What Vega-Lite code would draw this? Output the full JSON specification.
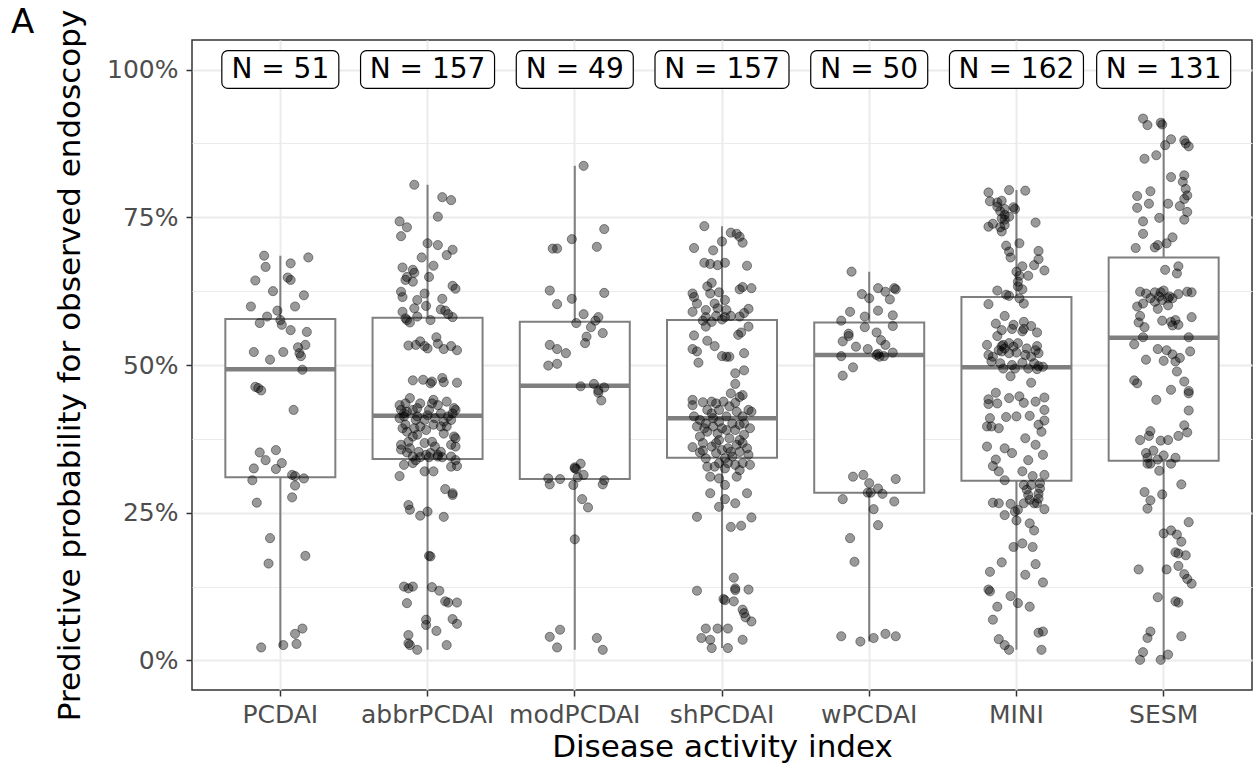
{
  "$schema": "https://vega.github.io/schema/vega-lite/v6.json",
  "width": 1060,
  "height": 650,
  "autosize": {"type": "none"},
  "padding": {"left": 192, "top": 40, "right": 1, "bottom": 77},
  "background": "white",
  "config": {"font": "DejaVu Sans", "view": {"stroke": "#333333", "strokeWidth": 1.5}},
  "title": {"text": "A", "anchor": "start", "frame": "group", "dx": -181, "dy": 58, "fontSize": 34, "fontWeight": "normal", "color": "black", "offset": 0, "baseline": "alphabetic"},
  "datasets": {
    "box": [
      {"c": "PCDAI", "lo": 2.2, "q1": 31.0, "med": 49.3, "q3": 57.8, "hi": 68.5},
      {"c": "abbrPCDAI", "lo": 1.8, "q1": 34.1, "med": 41.4, "q3": 58.0, "hi": 80.5},
      {"c": "modPCDAI", "lo": 1.8, "q1": 30.7, "med": 46.5, "q3": 57.3, "hi": 83.7},
      {"c": "shPCDAI", "lo": 2.1, "q1": 34.3, "med": 41.0, "q3": 57.6, "hi": 73.5},
      {"c": "wPCDAI", "lo": 3.2, "q1": 28.4, "med": 51.7, "q3": 57.2, "hi": 65.8},
      {"c": "MINI", "lo": 1.8, "q1": 30.4, "med": 49.6, "q3": 61.5, "hi": 79.6},
      {"c": "SESM", "lo": 0.1, "q1": 33.8, "med": 54.6, "q3": 68.2, "hi": 91.7}
    ],
    "lab": [
      {"c": "PCDAI", "n": 51, "label": "N = 51"},
      {"c": "abbrPCDAI", "n": 157, "label": "N = 157"},
      {"c": "modPCDAI", "n": 49, "label": "N = 49"},
      {"c": "shPCDAI", "n": 157, "label": "N = 157"},
      {"c": "wPCDAI", "n": 50, "label": "N = 50"},
      {"c": "MINI", "n": 162, "label": "N = 162"},
      {"c": "SESM", "n": 131, "label": "N = 131"}
    ],
    "pts": [
{"c":"PCDAI","v":68.5,"j":-0.11},{"c":"PCDAI","v":68.2,"j":0.19},{"c":"PCDAI","v":66.6,"j":-0.10},{"c":"PCDAI","v":67.2,"j":0.07},{"c":"PCDAI","v":64.3,"j":-0.17},{"c":"PCDAI","v":64.8,"j":0.05},{"c":"PCDAI","v":64.4,"j":0.07},{"c":"PCDAI","v":62.5,"j":-0.05},{"c":"PCDAI","v":61.8,"j":0.16},{"c":"PCDAI","v":59.9,"j":-0.20},{"c":"PCDAI","v":59.9,"j":0.10},{"c":"PCDAI","v":59.2,"j":-0.02},{"c":"PCDAI","v":58.2,"j":-0.09},{"c":"PCDAI","v":57.1,"j":-0.14},{"c":"PCDAI","v":57.6,"j":0.00},{"c":"PCDAI","v":56.8,"j":0.01},{"c":"PCDAI","v":55.9,"j":0.07},{"c":"PCDAI","v":55.6,"j":0.18},{"c":"PCDAI","v":53.4,"j":0.17},{"c":"PCDAI","v":53.0,"j":0.12},{"c":"PCDAI","v":52.2,"j":-0.18},{"c":"PCDAI","v":52.2,"j":0.02},{"c":"PCDAI","v":52.0,"j":0.13},{"c":"PCDAI","v":51.5,"j":0.14},{"c":"PCDAI","v":50.9,"j":-0.07},{"c":"PCDAI","v":49.2,"j":0.15},{"c":"PCDAI","v":46.3,"j":-0.17},{"c":"PCDAI","v":46.1,"j":-0.15},{"c":"PCDAI","v":45.7,"j":-0.13},{"c":"PCDAI","v":42.4,"j":0.09},{"c":"PCDAI","v":35.2,"j":-0.14},{"c":"PCDAI","v":35.6,"j":-0.03},{"c":"PCDAI","v":33.9,"j":-0.10},{"c":"PCDAI","v":33.4,"j":0.01},{"c":"PCDAI","v":32.5,"j":-0.18},{"c":"PCDAI","v":32.4,"j":-0.03},{"c":"PCDAI","v":31.4,"j":0.08},{"c":"PCDAI","v":31.2,"j":0.10},{"c":"PCDAI","v":30.8,"j":0.16},{"c":"PCDAI","v":30.5,"j":-0.19},{"c":"PCDAI","v":29.6,"j":0.10},{"c":"PCDAI","v":27.6,"j":0.08},{"c":"PCDAI","v":26.7,"j":-0.16},{"c":"PCDAI","v":20.7,"j":-0.07},{"c":"PCDAI","v":17.7,"j":0.17},{"c":"PCDAI","v":16.4,"j":-0.08},{"c":"PCDAI","v":5.4,"j":0.15},{"c":"PCDAI","v":4.5,"j":0.10},{"c":"PCDAI","v":2.2,"j":-0.13},{"c":"PCDAI","v":2.6,"j":0.02},{"c":"PCDAI","v":2.8,"j":0.11},
{"c":"abbrPCDAI","v":80.5,"j":-0.09},{"c":"abbrPCDAI","v":78.4,"j":0.10},{"c":"abbrPCDAI","v":77.9,"j":0.16},{"c":"abbrPCDAI","v":75.1,"j":0.07},{"c":"abbrPCDAI","v":74.3,"j":-0.19},{"c":"abbrPCDAI","v":73.3,"j":-0.14},{"c":"abbrPCDAI","v":71.8,"j":-0.18},{"c":"abbrPCDAI","v":70.6,"j":0.00},{"c":"abbrPCDAI","v":70.3,"j":0.07},{"c":"abbrPCDAI","v":69.5,"j":0.17},{"c":"abbrPCDAI","v":68.6,"j":0.13},{"c":"abbrPCDAI","v":68.2,"j":-0.04},{"c":"abbrPCDAI","v":66.8,"j":0.04},{"c":"abbrPCDAI","v":66.5,"j":-0.17},{"c":"abbrPCDAI","v":66.1,"j":-0.10},{"c":"abbrPCDAI","v":65.6,"j":-0.09},{"c":"abbrPCDAI","v":64.9,"j":-0.14},{"c":"abbrPCDAI","v":64.4,"j":-0.15},{"c":"abbrPCDAI","v":64.1,"j":-0.10},{"c":"abbrPCDAI","v":64.9,"j":0.01},{"c":"abbrPCDAI","v":63.4,"j":0.17},{"c":"abbrPCDAI","v":62.9,"j":0.19},{"c":"abbrPCDAI","v":62.4,"j":-0.18},{"c":"abbrPCDAI","v":61.5,"j":-0.17},{"c":"abbrPCDAI","v":62.1,"j":-0.02},{"c":"abbrPCDAI","v":61.0,"j":-0.07},{"c":"abbrPCDAI","v":61.2,"j":0.10},{"c":"abbrPCDAI","v":60.0,"j":-0.01},{"c":"abbrPCDAI","v":59.6,"j":-0.09},{"c":"abbrPCDAI","v":59.0,"j":-0.17},{"c":"abbrPCDAI","v":59.4,"j":0.09},{"c":"abbrPCDAI","v":59.2,"j":0.12},{"c":"abbrPCDAI","v":58.6,"j":0.14},{"c":"abbrPCDAI","v":58.1,"j":0.17},{"c":"abbrPCDAI","v":57.9,"j":-0.15},{"c":"abbrPCDAI","v":57.2,"j":-0.12},{"c":"abbrPCDAI","v":58.2,"j":-0.07},{"c":"abbrPCDAI","v":57.6,"j":0.02},{"c":"abbrPCDAI","v":57.6,"j":-0.14},{"c":"abbrPCDAI","v":53.3,"j":-0.13},{"c":"abbrPCDAI","v":54.0,"j":-0.05},{"c":"abbrPCDAI","v":53.4,"j":-0.08},{"c":"abbrPCDAI","v":52.8,"j":0.00},{"c":"abbrPCDAI","v":54.7,"j":0.06},{"c":"abbrPCDAI","v":53.6,"j":0.07},{"c":"abbrPCDAI","v":52.7,"j":0.11},{"c":"abbrPCDAI","v":53.2,"j":0.16},{"c":"abbrPCDAI","v":52.5,"j":0.20},{"c":"abbrPCDAI","v":53.2,"j":-0.02},{"c":"abbrPCDAI","v":47.4,"j":-0.10},{"c":"abbrPCDAI","v":47.5,"j":-0.03},{"c":"abbrPCDAI","v":46.9,"j":0.02},{"c":"abbrPCDAI","v":47.2,"j":0.03},{"c":"abbrPCDAI","v":47.8,"j":0.10},{"c":"abbrPCDAI","v":47.1,"j":0.11},{"c":"abbrPCDAI","v":47.0,"j":0.20},{"c":"abbrPCDAI","v":44.4,"j":-0.12},{"c":"abbrPCDAI","v":43.2,"j":-0.19},{"c":"abbrPCDAI","v":42.4,"j":-0.18},{"c":"abbrPCDAI","v":41.8,"j":-0.16},{"c":"abbrPCDAI","v":42.1,"j":-0.14},{"c":"abbrPCDAI","v":42.4,"j":-0.10},{"c":"abbrPCDAI","v":42.7,"j":-0.07},{"c":"abbrPCDAI","v":44.1,"j":0.04},{"c":"abbrPCDAI","v":43.5,"j":0.03},{"c":"abbrPCDAI","v":43.2,"j":0.07},{"c":"abbrPCDAI","v":43.8,"j":0.13},{"c":"abbrPCDAI","v":42.7,"j":0.18},{"c":"abbrPCDAI","v":41.8,"j":0.17},{"c":"abbrPCDAI","v":41.3,"j":0.14},{"c":"abbrPCDAI","v":41.5,"j":0.00},{"c":"abbrPCDAI","v":40.7,"j":-0.02},{"c":"abbrPCDAI","v":39.9,"j":-0.15},{"c":"abbrPCDAI","v":39.3,"j":-0.17},{"c":"abbrPCDAI","v":38.7,"j":-0.14},{"c":"abbrPCDAI","v":39.3,"j":-0.09},{"c":"abbrPCDAI","v":39.6,"j":-0.05},{"c":"abbrPCDAI","v":39.0,"j":-0.01},{"c":"abbrPCDAI","v":38.2,"j":-0.07},{"c":"abbrPCDAI","v":39.9,"j":0.04},{"c":"abbrPCDAI","v":38.4,"j":0.11},{"c":"abbrPCDAI","v":37.9,"j":0.18},{"c":"abbrPCDAI","v":41.0,"j":-0.19},{"c":"abbrPCDAI","v":40.7,"j":-0.08},{"c":"abbrPCDAI","v":41.8,"j":0.09},{"c":"abbrPCDAI","v":40.4,"j":0.11},{"c":"abbrPCDAI","v":41.0,"j":0.05},{"c":"abbrPCDAI","v":42.4,"j":0.19},{"c":"abbrPCDAI","v":41.3,"j":-0.16},{"c":"abbrPCDAI","v":36.5,"j":-0.18},{"c":"abbrPCDAI","v":35.7,"j":-0.18},{"c":"abbrPCDAI","v":35.9,"j":-0.12},{"c":"abbrPCDAI","v":35.3,"j":-0.06},{"c":"abbrPCDAI","v":34.8,"j":-0.01},{"c":"abbrPCDAI","v":36.2,"j":0.05},{"c":"abbrPCDAI","v":36.5,"j":0.16},{"c":"abbrPCDAI","v":36.2,"j":0.19},{"c":"abbrPCDAI","v":34.5,"j":-0.10},{"c":"abbrPCDAI","v":33.9,"j":-0.08},{"c":"abbrPCDAI","v":34.4,"j":-0.05},{"c":"abbrPCDAI","v":34.4,"j":0.01},{"c":"abbrPCDAI","v":34.8,"j":0.07},{"c":"abbrPCDAI","v":34.4,"j":0.10},{"c":"abbrPCDAI","v":34.5,"j":0.16},{"c":"abbrPCDAI","v":33.9,"j":0.19},{"c":"abbrPCDAI","v":33.4,"j":-0.10},{"c":"abbrPCDAI","v":33.1,"j":-0.16},{"c":"abbrPCDAI","v":32.8,"j":0.16},{"c":"abbrPCDAI","v":32.9,"j":0.20},{"c":"abbrPCDAI","v":32.0,"j":-0.02},{"c":"abbrPCDAI","v":32.0,"j":0.04},{"c":"abbrPCDAI","v":31.2,"j":-0.19},{"c":"abbrPCDAI","v":34.5,"j":0.07},{"c":"abbrPCDAI","v":35.2,"j":-0.14},{"c":"abbrPCDAI","v":35.1,"j":0.02},{"c":"abbrPCDAI","v":29.0,"j":0.12},{"c":"abbrPCDAI","v":28.3,"j":0.17},{"c":"abbrPCDAI","v":28.0,"j":0.17},{"c":"abbrPCDAI","v":26.3,"j":-0.13},{"c":"abbrPCDAI","v":25.5,"j":-0.12},{"c":"abbrPCDAI","v":24.5,"j":-0.05},{"c":"abbrPCDAI","v":25.2,"j":0.00},{"c":"abbrPCDAI","v":24.3,"j":0.11},{"c":"abbrPCDAI","v":17.7,"j":0.01},{"c":"abbrPCDAI","v":17.6,"j":0.02},{"c":"abbrPCDAI","v":12.5,"j":-0.16},{"c":"abbrPCDAI","v":12.2,"j":-0.13},{"c":"abbrPCDAI","v":12.5,"j":-0.10},{"c":"abbrPCDAI","v":9.7,"j":-0.14},{"c":"abbrPCDAI","v":12.4,"j":0.03},{"c":"abbrPCDAI","v":11.8,"j":0.08},{"c":"abbrPCDAI","v":10.0,"j":0.12},{"c":"abbrPCDAI","v":9.8,"j":0.14},{"c":"abbrPCDAI","v":9.8,"j":0.20},{"c":"abbrPCDAI","v":6.9,"j":-0.01},{"c":"abbrPCDAI","v":6.0,"j":-0.01},{"c":"abbrPCDAI","v":5.0,"j":0.06},{"c":"abbrPCDAI","v":7.0,"j":0.17},{"c":"abbrPCDAI","v":6.2,"j":0.20},{"c":"abbrPCDAI","v":4.3,"j":-0.13},{"c":"abbrPCDAI","v":2.9,"j":-0.13},{"c":"abbrPCDAI","v":2.6,"j":-0.12},{"c":"abbrPCDAI","v":1.8,"j":-0.07},{"c":"abbrPCDAI","v":2.6,"j":0.13},{"c":"abbrPCDAI","v":43.5,"j":-0.15},{"c":"abbrPCDAI","v":41.3,"j":-0.07},{"c":"abbrPCDAI","v":39.6,"j":0.09},{"c":"abbrPCDAI","v":39.6,"j":0.13},{"c":"abbrPCDAI","v":43.5,"j":-0.05},{"c":"abbrPCDAI","v":42.4,"j":0.01},{"c":"abbrPCDAI","v":37.9,"j":-0.10},{"c":"abbrPCDAI","v":40.7,"j":0.16},{"c":"abbrPCDAI","v":36.8,"j":-0.02},{"c":"abbrPCDAI","v":35.3,"j":0.09},{"c":"abbrPCDAI","v":37.0,"j":-0.13},{"c":"abbrPCDAI","v":37.6,"j":0.19},{"c":"abbrPCDAI","v":37.0,"j":0.03},
{"c":"modPCDAI","v":83.7,"j":0.06},{"c":"modPCDAI","v":73.0,"j":0.20},{"c":"modPCDAI","v":71.3,"j":-0.02},{"c":"modPCDAI","v":69.7,"j":-0.15},{"c":"modPCDAI","v":69.7,"j":-0.12},{"c":"modPCDAI","v":70.0,"j":0.15},{"c":"modPCDAI","v":62.6,"j":-0.17},{"c":"modPCDAI","v":62.2,"j":0.20},{"c":"modPCDAI","v":61.2,"j":-0.02},{"c":"modPCDAI","v":60.3,"j":-0.12},{"c":"modPCDAI","v":58.6,"j":0.06},{"c":"modPCDAI","v":58.1,"j":0.16},{"c":"modPCDAI","v":57.5,"j":0.14},{"c":"modPCDAI","v":57.1,"j":0.01},{"c":"modPCDAI","v":56.4,"j":0.11},{"c":"modPCDAI","v":55.4,"j":0.19},{"c":"modPCDAI","v":54.8,"j":0.08},{"c":"modPCDAI","v":53.7,"j":0.07},{"c":"modPCDAI","v":53.4,"j":-0.17},{"c":"modPCDAI","v":52.7,"j":-0.12},{"c":"modPCDAI","v":52.0,"j":-0.06},{"c":"modPCDAI","v":49.9,"j":-0.18},{"c":"modPCDAI","v":50.2,"j":-0.12},{"c":"modPCDAI","v":46.4,"j":0.04},{"c":"modPCDAI","v":46.8,"j":0.13},{"c":"modPCDAI","v":45.7,"j":0.16},{"c":"modPCDAI","v":45.3,"j":0.16},{"c":"modPCDAI","v":46.2,"j":0.20},{"c":"modPCDAI","v":44.0,"j":0.18},{"c":"modPCDAI","v":33.3,"j":0.04},{"c":"modPCDAI","v":32.7,"j":0.00},{"c":"modPCDAI","v":32.4,"j":0.01},{"c":"modPCDAI","v":31.4,"j":0.06},{"c":"modPCDAI","v":30.8,"j":-0.18},{"c":"modPCDAI","v":30.7,"j":-0.10},{"c":"modPCDAI","v":29.8,"j":-0.17},{"c":"modPCDAI","v":29.7,"j":-0.01},{"c":"modPCDAI","v":30.5,"j":0.20},{"c":"modPCDAI","v":29.8,"j":0.19},{"c":"modPCDAI","v":31.0,"j":0.02},{"c":"modPCDAI","v":27.3,"j":0.05},{"c":"modPCDAI","v":25.9,"j":0.09},{"c":"modPCDAI","v":20.5,"j":0.00},{"c":"modPCDAI","v":5.2,"j":-0.10},{"c":"modPCDAI","v":4.0,"j":-0.17},{"c":"modPCDAI","v":2.2,"j":-0.12},{"c":"modPCDAI","v":3.8,"j":0.15},{"c":"modPCDAI","v":1.8,"j":0.19},{"c":"modPCDAI","v":32.5,"j":0.00},
{"c":"shPCDAI","v":73.5,"j":-0.12},{"c":"shPCDAI","v":72.4,"j":0.06},{"c":"shPCDAI","v":72.2,"j":0.10},{"c":"shPCDAI","v":71.7,"j":0.12},{"c":"shPCDAI","v":70.9,"j":0.00},{"c":"shPCDAI","v":70.7,"j":0.14},{"c":"shPCDAI","v":69.8,"j":-0.19},{"c":"shPCDAI","v":69.4,"j":-0.06},{"c":"shPCDAI","v":67.3,"j":-0.12},{"c":"shPCDAI","v":67.1,"j":-0.08},{"c":"shPCDAI","v":66.9,"j":-0.03},{"c":"shPCDAI","v":67.3,"j":0.02},{"c":"shPCDAI","v":66.8,"j":0.17},{"c":"shPCDAI","v":63.9,"j":-0.07},{"c":"shPCDAI","v":63.3,"j":-0.10},{"c":"shPCDAI","v":62.1,"j":-0.20},{"c":"shPCDAI","v":61.5,"j":-0.19},{"c":"shPCDAI","v":62.3,"j":-0.02},{"c":"shPCDAI","v":62.1,"j":-0.08},{"c":"shPCDAI","v":61.0,"j":0.02},{"c":"shPCDAI","v":60.4,"j":-0.05},{"c":"shPCDAI","v":62.8,"j":0.12},{"c":"shPCDAI","v":63.2,"j":0.14},{"c":"shPCDAI","v":63.0,"j":0.20},{"c":"shPCDAI","v":60.4,"j":-0.17},{"c":"shPCDAI","v":59.0,"j":-0.20},{"c":"shPCDAI","v":59.3,"j":-0.11},{"c":"shPCDAI","v":59.6,"j":-0.03},{"c":"shPCDAI","v":59.3,"j":0.03},{"c":"shPCDAI","v":59.5,"j":0.18},{"c":"shPCDAI","v":58.1,"j":-0.11},{"c":"shPCDAI","v":58.3,"j":-0.04},{"c":"shPCDAI","v":58.1,"j":0.02},{"c":"shPCDAI","v":58.3,"j":0.06},{"c":"shPCDAI","v":58.2,"j":0.12},{"c":"shPCDAI","v":58.8,"j":0.15},{"c":"shPCDAI","v":57.5,"j":-0.13},{"c":"shPCDAI","v":57.7,"j":0.00},{"c":"shPCDAI","v":57.3,"j":-0.07},{"c":"shPCDAI","v":56.5,"j":0.18},{"c":"shPCDAI","v":56.5,"j":-0.11},{"c":"shPCDAI","v":55.1,"j":0.11},{"c":"shPCDAI","v":55.5,"j":0.13},{"c":"shPCDAI","v":55.0,"j":-0.19},{"c":"shPCDAI","v":54.1,"j":-0.10},{"c":"shPCDAI","v":53.2,"j":-0.05},{"c":"shPCDAI","v":52.7,"j":-0.20},{"c":"shPCDAI","v":52.3,"j":-0.17},{"c":"shPCDAI","v":51.5,"j":0.00},{"c":"shPCDAI","v":51.4,"j":0.03},{"c":"shPCDAI","v":51.4,"j":0.05},{"c":"shPCDAI","v":52.0,"j":0.15},{"c":"shPCDAI","v":50.4,"j":-0.16},{"c":"shPCDAI","v":48.6,"j":0.09},{"c":"shPCDAI","v":49.1,"j":0.15},{"c":"shPCDAI","v":46.8,"j":0.09},{"c":"shPCDAI","v":44.1,"j":-0.20},{"c":"shPCDAI","v":43.7,"j":-0.13},{"c":"shPCDAI","v":45.2,"j":0.06},{"c":"shPCDAI","v":44.6,"j":0.12},{"c":"shPCDAI","v":44.9,"j":0.14},{"c":"shPCDAI","v":43.2,"j":-0.20},{"c":"shPCDAI","v":43.8,"j":0.01},{"c":"shPCDAI","v":43.6,"j":0.09},{"c":"shPCDAI","v":42.4,"j":-0.02},{"c":"shPCDAI","v":42.4,"j":-0.10},{"c":"shPCDAI","v":41.8,"j":-0.07},{"c":"shPCDAI","v":41.3,"j":-0.19},{"c":"shPCDAI","v":40.7,"j":-0.15},{"c":"shPCDAI","v":41.0,"j":-0.06},{"c":"shPCDAI","v":40.4,"j":-0.02},{"c":"shPCDAI","v":40.1,"j":-0.11},{"c":"shPCDAI","v":41.3,"j":0.03},{"c":"shPCDAI","v":42.1,"j":0.10},{"c":"shPCDAI","v":42.4,"j":0.18},{"c":"shPCDAI","v":42.1,"j":0.20},{"c":"shPCDAI","v":41.3,"j":0.14},{"c":"shPCDAI","v":39.3,"j":0.19},{"c":"shPCDAI","v":40.1,"j":0.07},{"c":"shPCDAI","v":39.0,"j":0.03},{"c":"shPCDAI","v":39.6,"j":-0.06},{"c":"shPCDAI","v":38.7,"j":-0.10},{"c":"shPCDAI","v":37.9,"j":-0.15},{"c":"shPCDAI","v":37.3,"j":-0.02},{"c":"shPCDAI","v":37.6,"j":0.05},{"c":"shPCDAI","v":37.3,"j":0.12},{"c":"shPCDAI","v":38.2,"j":0.15},{"c":"shPCDAI","v":36.8,"j":-0.13},{"c":"shPCDAI","v":36.2,"j":-0.07},{"c":"shPCDAI","v":36.1,"j":-0.20},{"c":"shPCDAI","v":35.2,"j":-0.15},{"c":"shPCDAI","v":35.5,"j":-0.13},{"c":"shPCDAI","v":35.6,"j":0.00},{"c":"shPCDAI","v":35.9,"j":0.04},{"c":"shPCDAI","v":36.5,"j":0.10},{"c":"shPCDAI","v":35.9,"j":0.17},{"c":"shPCDAI","v":34.8,"j":0.18},{"c":"shPCDAI","v":34.2,"j":0.02},{"c":"shPCDAI","v":34.5,"j":0.07},{"c":"shPCDAI","v":35.3,"j":0.12},{"c":"shPCDAI","v":33.4,"j":-0.02},{"c":"shPCDAI","v":33.1,"j":0.19},{"c":"shPCDAI","v":32.8,"j":-0.10},{"c":"shPCDAI","v":32.8,"j":-0.05},{"c":"shPCDAI","v":32.5,"j":0.02},{"c":"shPCDAI","v":32.2,"j":0.12},{"c":"shPCDAI","v":31.1,"j":-0.08},{"c":"shPCDAI","v":30.8,"j":-0.02},{"c":"shPCDAI","v":31.1,"j":0.10},{"c":"shPCDAI","v":29.7,"j":0.02},{"c":"shPCDAI","v":28.3,"j":-0.08},{"c":"shPCDAI","v":28.3,"j":0.17},{"c":"shPCDAI","v":27.3,"j":0.02},{"c":"shPCDAI","v":26.0,"j":-0.02},{"c":"shPCDAI","v":26.6,"j":0.09},{"c":"shPCDAI","v":24.3,"j":-0.17},{"c":"shPCDAI","v":24.2,"j":0.20},{"c":"shPCDAI","v":22.6,"j":0.06},{"c":"shPCDAI","v":22.8,"j":0.13},{"c":"shPCDAI","v":14.0,"j":0.08},{"c":"shPCDAI","v":11.8,"j":-0.17},{"c":"shPCDAI","v":12.2,"j":0.09},{"c":"shPCDAI","v":11.9,"j":0.09},{"c":"shPCDAI","v":12.0,"j":0.18},{"c":"shPCDAI","v":10.4,"j":0.01},{"c":"shPCDAI","v":10.2,"j":0.02},{"c":"shPCDAI","v":10.0,"j":0.08},{"c":"shPCDAI","v":8.6,"j":0.14},{"c":"shPCDAI","v":8.0,"j":0.15},{"c":"shPCDAI","v":7.3,"j":0.16},{"c":"shPCDAI","v":6.6,"j":0.20},{"c":"shPCDAI","v":5.4,"j":-0.11},{"c":"shPCDAI","v":5.4,"j":-0.03},{"c":"shPCDAI","v":5.4,"j":0.04},{"c":"shPCDAI","v":3.8,"j":-0.14},{"c":"shPCDAI","v":3.5,"j":-0.08},{"c":"shPCDAI","v":3.5,"j":0.14},{"c":"shPCDAI","v":2.1,"j":-0.07},{"c":"shPCDAI","v":2.1,"j":0.04},{"c":"shPCDAI","v":43.5,"j":-0.04},{"c":"shPCDAI","v":43.0,"j":0.05},{"c":"shPCDAI","v":39.3,"j":-0.12},{"c":"shPCDAI","v":39.3,"j":0.00},{"c":"shPCDAI","v":39.9,"j":0.12},{"c":"shPCDAI","v":39.6,"j":-0.17},{"c":"shPCDAI","v":36.8,"j":-0.04},{"c":"shPCDAI","v":35.3,"j":0.06},{"c":"shPCDAI","v":36.8,"j":0.14},{"c":"shPCDAI","v":34.2,"j":-0.11},{"c":"shPCDAI","v":35.1,"j":-0.04},{"c":"shPCDAI","v":33.4,"j":0.04},{"c":"shPCDAI","v":33.1,"j":0.09},{"c":"shPCDAI","v":33.4,"j":0.14},{"c":"shPCDAI","v":38.4,"j":-0.03},{"c":"shPCDAI","v":39.0,"j":0.09},{"c":"shPCDAI","v":43.8,"j":-0.07},{"c":"shPCDAI","v":40.1,"j":0.15},
{"c":"wPCDAI","v":65.8,"j":-0.12},{"c":"wPCDAI","v":63.0,"j":0.06},{"c":"wPCDAI","v":62.4,"j":0.11},{"c":"wPCDAI","v":63.0,"j":0.17},{"c":"wPCDAI","v":62.8,"j":0.18},{"c":"wPCDAI","v":62.0,"j":-0.05},{"c":"wPCDAI","v":61.3,"j":0.00},{"c":"wPCDAI","v":61.1,"j":0.14},{"c":"wPCDAI","v":59.0,"j":-0.13},{"c":"wPCDAI","v":59.2,"j":0.06},{"c":"wPCDAI","v":58.2,"j":-0.03},{"c":"wPCDAI","v":58.4,"j":0.16},{"c":"wPCDAI","v":57.5,"j":-0.19},{"c":"wPCDAI","v":56.4,"j":-0.03},{"c":"wPCDAI","v":56.6,"j":0.16},{"c":"wPCDAI","v":55.5,"j":0.05},{"c":"wPCDAI","v":55.3,"j":-0.14},{"c":"wPCDAI","v":54.9,"j":-0.14},{"c":"wPCDAI","v":54.0,"j":-0.18},{"c":"wPCDAI","v":54.2,"j":0.08},{"c":"wPCDAI","v":53.4,"j":0.11},{"c":"wPCDAI","v":53.1,"j":-0.09},{"c":"wPCDAI","v":52.7,"j":-0.01},{"c":"wPCDAI","v":52.1,"j":0.16},{"c":"wPCDAI","v":51.5,"j":-0.19},{"c":"wPCDAI","v":51.7,"j":0.05},{"c":"wPCDAI","v":51.4,"j":0.07},{"c":"wPCDAI","v":51.5,"j":0.10},{"c":"wPCDAI","v":49.6,"j":-0.11},{"c":"wPCDAI","v":48.2,"j":-0.18},{"c":"wPCDAI","v":31.1,"j":-0.11},{"c":"wPCDAI","v":31.4,"j":-0.04},{"c":"wPCDAI","v":30.0,"j":0.00},{"c":"wPCDAI","v":30.7,"j":0.18},{"c":"wPCDAI","v":29.1,"j":0.06},{"c":"wPCDAI","v":28.4,"j":-0.01},{"c":"wPCDAI","v":28.4,"j":0.01},{"c":"wPCDAI","v":28.2,"j":0.09},{"c":"wPCDAI","v":27.3,"j":-0.18},{"c":"wPCDAI","v":26.9,"j":0.17},{"c":"wPCDAI","v":25.6,"j":0.03},{"c":"wPCDAI","v":22.9,"j":0.06},{"c":"wPCDAI","v":20.7,"j":-0.13},{"c":"wPCDAI","v":16.7,"j":-0.10},{"c":"wPCDAI","v":4.1,"j":-0.19},{"c":"wPCDAI","v":3.2,"j":-0.06},{"c":"wPCDAI","v":3.8,"j":0.03},{"c":"wPCDAI","v":4.5,"j":0.11},{"c":"wPCDAI","v":4.1,"j":0.18},{"c":"wPCDAI","v":51.9,"j":0.06},
{"c":"MINI","v":79.2,"j":-0.19},{"c":"MINI","v":79.6,"j":-0.05},{"c":"MINI","v":79.5,"j":0.06},{"c":"MINI","v":77.7,"j":-0.18},{"c":"MINI","v":77.5,"j":-0.13},{"c":"MINI","v":77.8,"j":-0.10},{"c":"MINI","v":76.0,"j":-0.11},{"c":"MINI","v":76.4,"j":-0.08},{"c":"MINI","v":76.7,"j":-0.02},{"c":"MINI","v":76.4,"j":-0.01},{"c":"MINI","v":74.8,"j":-0.10},{"c":"MINI","v":74.6,"j":-0.08},{"c":"MINI","v":75.1,"j":-0.05},{"c":"MINI","v":73.4,"j":-0.19},{"c":"MINI","v":73.9,"j":-0.16},{"c":"MINI","v":73.3,"j":-0.11},{"c":"MINI","v":72.6,"j":-0.10},{"c":"MINI","v":73.7,"j":-0.08},{"c":"MINI","v":74.1,"j":0.13},{"c":"MINI","v":70.2,"j":-0.07},{"c":"MINI","v":70.6,"j":0.02},{"c":"MINI","v":69.2,"j":-0.05},{"c":"MINI","v":68.2,"j":-0.04},{"c":"MINI","v":69.3,"j":0.15},{"c":"MINI","v":67.9,"j":0.15},{"c":"MINI","v":66.9,"j":0.12},{"c":"MINI","v":66.0,"j":0.19},{"c":"MINI","v":66.7,"j":0.04},{"c":"MINI","v":65.1,"j":0.08},{"c":"MINI","v":65.1,"j":0.02},{"c":"MINI","v":64.1,"j":0.01},{"c":"MINI","v":63.3,"j":0.01},{"c":"MINI","v":62.8,"j":0.04},{"c":"MINI","v":62.6,"j":-0.13},{"c":"MINI","v":61.9,"j":-0.07},{"c":"MINI","v":61.7,"j":-0.05},{"c":"MINI","v":61.3,"j":0.02},{"c":"MINI","v":60.4,"j":0.05},{"c":"MINI","v":60.3,"j":-0.19},{"c":"MINI","v":58.3,"j":-0.08},{"c":"MINI","v":57.0,"j":-0.14},{"c":"MINI","v":56.8,"j":-0.02},{"c":"MINI","v":57.3,"j":0.05},{"c":"MINI","v":56.6,"j":0.10},{"c":"MINI","v":56.1,"j":-0.03},{"c":"MINI","v":55.7,"j":0.04},{"c":"MINI","v":55.5,"j":0.14},{"c":"MINI","v":54.9,"j":-0.13},{"c":"MINI","v":53.4,"j":-0.20},{"c":"MINI","v":53.2,"j":-0.10},{"c":"MINI","v":52.8,"j":-0.08},{"c":"MINI","v":52.1,"j":0.00},{"c":"MINI","v":53.2,"j":0.14},{"c":"MINI","v":52.0,"j":0.15},{"c":"MINI","v":51.7,"j":-0.19},{"c":"MINI","v":51.4,"j":-0.16},{"c":"MINI","v":52.3,"j":-0.10},{"c":"MINI","v":52.0,"j":-0.05},{"c":"MINI","v":51.7,"j":0.06},{"c":"MINI","v":51.4,"j":0.10},{"c":"MINI","v":50.6,"j":-0.17},{"c":"MINI","v":50.3,"j":-0.11},{"c":"MINI","v":50.0,"j":-0.03},{"c":"MINI","v":49.4,"j":0.08},{"c":"MINI","v":49.3,"j":0.14},{"c":"MINI","v":49.8,"j":0.15},{"c":"MINI","v":49.7,"j":0.18},{"c":"MINI","v":48.1,"j":-0.04},{"c":"MINI","v":47.0,"j":0.10},{"c":"MINI","v":53.7,"j":0.01},{"c":"MINI","v":53.7,"j":-0.05},{"c":"MINI","v":45.3,"j":-0.14},{"c":"MINI","v":44.2,"j":-0.19},{"c":"MINI","v":43.4,"j":-0.19},{"c":"MINI","v":44.7,"j":0.02},{"c":"MINI","v":43.6,"j":0.05},{"c":"MINI","v":43.8,"j":0.13},{"c":"MINI","v":44.5,"j":0.19},{"c":"MINI","v":42.4,"j":0.19},{"c":"MINI","v":41.2,"j":-0.07},{"c":"MINI","v":41.3,"j":0.00},{"c":"MINI","v":41.4,"j":0.09},{"c":"MINI","v":40.6,"j":0.19},{"c":"MINI","v":41.0,"j":-0.18},{"c":"MINI","v":39.6,"j":-0.17},{"c":"MINI","v":39.3,"j":-0.12},{"c":"MINI","v":39.6,"j":-0.20},{"c":"MINI","v":38.7,"j":0.17},{"c":"MINI","v":37.6,"j":0.06},{"c":"MINI","v":36.5,"j":0.13},{"c":"MINI","v":36.2,"j":-0.20},{"c":"MINI","v":35.9,"j":-0.08},{"c":"MINI","v":35.1,"j":-0.03},{"c":"MINI","v":34.8,"j":0.18},{"c":"MINI","v":33.9,"j":0.08},{"c":"MINI","v":34.0,"j":-0.14},{"c":"MINI","v":32.9,"j":-0.16},{"c":"MINI","v":32.0,"j":-0.12},{"c":"MINI","v":30.5,"j":-0.08},{"c":"MINI","v":32.0,"j":0.04},{"c":"MINI","v":31.2,"j":0.11},{"c":"MINI","v":31.4,"j":0.19},{"c":"MINI","v":30.0,"j":0.16},{"c":"MINI","v":29.7,"j":0.10},{"c":"MINI","v":28.9,"j":0.07},{"c":"MINI","v":28.0,"j":0.08},{"c":"MINI","v":28.2,"j":0.15},{"c":"MINI","v":26.7,"j":-0.16},{"c":"MINI","v":26.6,"j":-0.12},{"c":"MINI","v":26.5,"j":-0.04},{"c":"MINI","v":26.6,"j":0.05},{"c":"MINI","v":26.6,"j":0.14},{"c":"MINI","v":25.6,"j":0.19},{"c":"MINI","v":24.6,"j":-0.08},{"c":"MINI","v":23.7,"j":0.00},{"c":"MINI","v":25.5,"j":0.01},{"c":"MINI","v":23.2,"j":0.09},{"c":"MINI","v":22.0,"j":0.12},{"c":"MINI","v":19.2,"j":-0.02},{"c":"MINI","v":19.8,"j":0.04},{"c":"MINI","v":19.2,"j":0.11},{"c":"MINI","v":16.6,"j":-0.10},{"c":"MINI","v":15.0,"j":-0.18},{"c":"MINI","v":16.3,"j":0.13},{"c":"MINI","v":14.5,"j":0.06},{"c":"MINI","v":13.2,"j":0.18},{"c":"MINI","v":12.0,"j":-0.19},{"c":"MINI","v":11.7,"j":-0.18},{"c":"MINI","v":10.9,"j":-0.04},{"c":"MINI","v":9.7,"j":0.01},{"c":"MINI","v":9.1,"j":0.09},{"c":"MINI","v":9.1,"j":-0.13},{"c":"MINI","v":6.9,"j":-0.16},{"c":"MINI","v":4.7,"j":0.15},{"c":"MINI","v":4.9,"j":0.18},{"c":"MINI","v":3.6,"j":-0.12},{"c":"MINI","v":2.6,"j":-0.08},{"c":"MINI","v":1.8,"j":-0.05},{"c":"MINI","v":1.8,"j":0.17},{"c":"MINI","v":25.2,"j":-0.01},{"c":"MINI","v":27.4,"j":0.15},{"c":"MINI","v":26.6,"j":0.12},{"c":"MINI","v":53.4,"j":-0.09},{"c":"MINI","v":52.5,"j":-0.12},{"c":"MINI","v":53.1,"j":-0.02},{"c":"MINI","v":52.8,"j":0.07},{"c":"MINI","v":50.4,"j":0.04},{"c":"MINI","v":52.5,"j":0.13},{"c":"MINI","v":49.4,"j":-0.01},{"c":"MINI","v":49.4,"j":-0.09},{"c":"MINI","v":76.8,"j":-0.13},{"c":"MINI","v":75.4,"j":-0.08},{"c":"MINI","v":65.8,"j":0.00},{"c":"MINI","v":43.5,"j":-0.13},{"c":"MINI","v":39.9,"j":0.15},{"c":"MINI","v":44.4,"j":-0.05},{"c":"MINI","v":29.7,"j":0.05},{"c":"MINI","v":29.1,"j":0.16},{"c":"MINI","v":27.2,"j":0.09},{"c":"MINI","v":55.9,"j":-0.10},{"c":"MINI","v":56.1,"j":0.05},{"c":"MINI","v":50.3,"j":0.12},
{"c":"SESM","v":91.7,"j":-0.14},{"c":"SESM","v":90.6,"j":-0.11},{"c":"SESM","v":91.0,"j":-0.02},{"c":"SESM","v":90.7,"j":-0.01},{"c":"SESM","v":88.2,"j":0.05},{"c":"SESM","v":87.2,"j":0.01},{"c":"SESM","v":88.0,"j":0.14},{"c":"SESM","v":87.5,"j":0.15},{"c":"SESM","v":87.0,"j":0.17},{"c":"SESM","v":84.9,"j":-0.13},{"c":"SESM","v":85.5,"j":-0.05},{"c":"SESM","v":81.8,"j":0.05},{"c":"SESM","v":82.1,"j":0.14},{"c":"SESM","v":81.0,"j":0.13},{"c":"SESM","v":79.8,"j":0.15},{"c":"SESM","v":78.7,"j":0.16},{"c":"SESM","v":78.1,"j":0.14},{"c":"SESM","v":78.6,"j":-0.18},{"c":"SESM","v":79.4,"j":-0.09},{"c":"SESM","v":77.3,"j":-0.10},{"c":"SESM","v":77.3,"j":0.03},{"c":"SESM","v":76.9,"j":0.11},{"c":"SESM","v":76.6,"j":-0.18},{"c":"SESM","v":75.9,"j":0.16},{"c":"SESM","v":74.3,"j":-0.14},{"c":"SESM","v":74.9,"j":-0.03},{"c":"SESM","v":72.2,"j":-0.14},{"c":"SESM","v":71.6,"j":0.06},{"c":"SESM","v":70.6,"j":0.02},{"c":"SESM","v":69.8,"j":-0.19},{"c":"SESM","v":69.9,"j":-0.06},{"c":"SESM","v":70.3,"j":-0.04},{"c":"SESM","v":66.1,"j":0.01},{"c":"SESM","v":66.7,"j":0.10},{"c":"SESM","v":65.5,"j":0.09},{"c":"SESM","v":62.4,"j":-0.16},{"c":"SESM","v":62.1,"j":-0.12},{"c":"SESM","v":62.3,"j":-0.06},{"c":"SESM","v":61.6,"j":-0.03},{"c":"SESM","v":62.6,"j":0.00},{"c":"SESM","v":61.6,"j":0.04},{"c":"SESM","v":61.3,"j":0.06},{"c":"SESM","v":62.0,"j":0.10},{"c":"SESM","v":62.4,"j":0.16},{"c":"SESM","v":62.3,"j":0.19},{"c":"SESM","v":59.9,"j":-0.18},{"c":"SESM","v":60.4,"j":-0.14},{"c":"SESM","v":59.5,"j":-0.04},{"c":"SESM","v":60.1,"j":0.03},{"c":"SESM","v":61.0,"j":-0.01},{"c":"SESM","v":61.3,"j":-0.09},{"c":"SESM","v":57.2,"j":-0.17},{"c":"SESM","v":56.4,"j":-0.13},{"c":"SESM","v":57.5,"j":-0.01},{"c":"SESM","v":57.3,"j":0.05},{"c":"SESM","v":57.6,"j":0.08},{"c":"SESM","v":56.8,"j":0.10},{"c":"SESM","v":58.1,"j":0.19},{"c":"SESM","v":54.7,"j":-0.14},{"c":"SESM","v":53.5,"j":-0.20},{"c":"SESM","v":54.7,"j":0.17},{"c":"SESM","v":52.7,"j":-0.04},{"c":"SESM","v":52.5,"j":0.02},{"c":"SESM","v":50.9,"j":-0.12},{"c":"SESM","v":50.7,"j":0.00},{"c":"SESM","v":50.6,"j":0.08},{"c":"SESM","v":51.2,"j":0.11},{"c":"SESM","v":52.3,"j":0.18},{"c":"SESM","v":48.9,"j":0.09},{"c":"SESM","v":47.4,"j":-0.20},{"c":"SESM","v":46.9,"j":-0.18},{"c":"SESM","v":45.8,"j":0.05},{"c":"SESM","v":47.2,"j":0.14},{"c":"SESM","v":45.6,"j":0.17},{"c":"SESM","v":45.2,"j":0.17},{"c":"SESM","v":44.1,"j":-0.05},{"c":"SESM","v":42.3,"j":0.17},{"c":"SESM","v":37.3,"j":-0.16},{"c":"SESM","v":38.8,"j":-0.09},{"c":"SESM","v":38.0,"j":-0.10},{"c":"SESM","v":37.2,"j":-0.02},{"c":"SESM","v":37.3,"j":0.03},{"c":"SESM","v":38.0,"j":0.10},{"c":"SESM","v":39.8,"j":0.14},{"c":"SESM","v":38.6,"j":0.16},{"c":"SESM","v":35.1,"j":-0.12},{"c":"SESM","v":35.5,"j":-0.07},{"c":"SESM","v":34.3,"j":-0.11},{"c":"SESM","v":34.7,"j":0.00},{"c":"SESM","v":34.3,"j":0.08},{"c":"SESM","v":33.3,"j":-0.09},{"c":"SESM","v":32.1,"j":-0.03},{"c":"SESM","v":33.3,"j":0.05},{"c":"SESM","v":29.8,"j":0.12},{"c":"SESM","v":28.5,"j":-0.13},{"c":"SESM","v":27.1,"j":-0.09},{"c":"SESM","v":25.7,"j":-0.11},{"c":"SESM","v":28.1,"j":-0.01},{"c":"SESM","v":23.4,"j":0.17},{"c":"SESM","v":21.5,"j":0.00},{"c":"SESM","v":22.0,"j":0.05},{"c":"SESM","v":21.3,"j":0.09},{"c":"SESM","v":20.1,"j":0.12},{"c":"SESM","v":18.3,"j":0.08},{"c":"SESM","v":18.1,"j":0.10},{"c":"SESM","v":17.8,"j":0.15},{"c":"SESM","v":15.4,"j":-0.17},{"c":"SESM","v":15.4,"j":0.02},{"c":"SESM","v":16.0,"j":0.10},{"c":"SESM","v":14.6,"j":0.14},{"c":"SESM","v":13.8,"j":0.16},{"c":"SESM","v":13.0,"j":0.19},{"c":"SESM","v":10.7,"j":-0.04},{"c":"SESM","v":10.0,"j":0.08},{"c":"SESM","v":9.8,"j":0.10},{"c":"SESM","v":4.9,"j":-0.09},{"c":"SESM","v":3.8,"j":-0.11},{"c":"SESM","v":4.1,"j":0.12},{"c":"SESM","v":1.4,"j":-0.14},{"c":"SESM","v":0.1,"j":-0.16},{"c":"SESM","v":0.1,"j":-0.02},{"c":"SESM","v":1.0,"j":0.03},{"c":"SESM","v":61.3,"j":0.03},{"c":"SESM","v":60.7,"j":-0.06},{"c":"SESM","v":33.3,"j":-0.11},{"c":"SESM","v":34.0,"j":-0.04},{"c":"SESM","v":62.3,"j":-0.02},{"c":"SESM","v":74.6,"j":0.14},{"c":"SESM","v":56.7,"j":0.06},{"c":"SESM","v":58.3,"j":-0.16},{"c":"SESM","v":51.8,"j":0.06}
    ]
  },
  "encoding": {
    "x": {
      "field": "c", "type": "nominal", "title": "Disease activity index",
      "scale": {"domain": ["PCDAI", "abbrPCDAI", "modPCDAI", "shPCDAI", "wPCDAI", "MINI", "SESM"], "paddingInner": 0, "paddingOuter": 0.1},
      "axis": {"grid": true, "bandPosition": 0.5, "gridColor": "#EBEBEB", "gridWidth": 2, "domain": false, "labelAngle": 0, "labelFontSize": 25, "labelColor": "#4D4D4D", "labelPadding": 6, "tickColor": "#333333", "tickSize": 6, "tickWidth": 1.5, "titleFontSize": 31, "titleFontWeight": "normal", "titleColor": "black", "titlePadding": 5}
    }
  },
  "layer": [
    {
      "data": {"name": "box"},
      "mark": {"type": "rule", "color": "#7F7F7F", "strokeWidth": 2},
      "encoding": {
        "y": {"field": "lo", "type": "quantitative", "title": "Predictive probability for observed endoscopy",
          "scale": {"domain": [-5, 105], "nice": false, "zero": false},
          "axis": {"values": [0, 12.5, 25, 37.5, 50, 62.5, 75, 87.5, 100], "labelExpr": "datum.value % 25 == 0 ? datum.value + '%' : ''", "labelOverlap": false, "labelFontSize": 25, "labelColor": "#4D4D4D", "labelPadding": 8, "tickColor": "#333333", "tickSize": 6, "tickWidth": 1.5, "tickOpacity": {"condition": {"test": "datum.value % 25 != 0", "value": 0}, "value": 1}, "gridColor": "#EBEBEB", "gridWidth": {"condition": {"test": "datum.value % 25 != 0", "value": 1}, "value": 2}, "domain": false, "titleFontSize": 31, "titleFontWeight": "normal", "titleColor": "black", "titlePadding": 20}},
        "y2": {"field": "hi"}
      }
    },
    {
      "data": {"name": "box"},
      "mark": {"type": "bar", "width": 110, "fill": "white", "stroke": "#7F7F7F", "strokeWidth": 2},
      "encoding": {
        "y": {"field": "q1", "type": "quantitative", "title": "Predictive probability for observed endoscopy"},
        "y2": {"field": "q3"}
      }
    },
    {
      "data": {"name": "box"},
      "mark": {"type": "tick", "thickness": 4.5, "size": 110, "color": "#7F7F7F", "opacity": 1},
      "encoding": {
        "y": {"field": "med", "type": "quantitative", "title": "Predictive probability for observed endoscopy"}
      }
    },
    {
      "data": {"name": "pts"},
      "mark": {"type": "circle", "size": 84, "fill": "black", "fillOpacity": 0.4, "stroke": "black", "strokeOpacity": 0.4, "strokeWidth": 1, "opacity": 1},
      "encoding": {
        "xOffset": {"field": "j", "type": "quantitative", "scale": {"domain": [-0.5, 0.5]}},
        "y": {"field": "v", "type": "quantitative", "title": "Predictive probability for observed endoscopy"}
      }
    },
    {
      "data": {"name": "lab"},
      "transform": [{"filter": "datum.n < 100"}],
      "mark": {"type": "bar", "width": 117, "fill": "white", "stroke": "black", "strokeWidth": 1.2, "cornerRadius": 6},
      "encoding": {
        "y": {"datum": 96.8, "type": "quantitative"},
        "y2": {"datum": 103.2}
      }
    },
    {
      "data": {"name": "lab"},
      "transform": [{"filter": "datum.n >= 100"}],
      "mark": {"type": "bar", "width": 134, "fill": "white", "stroke": "black", "strokeWidth": 1.2, "cornerRadius": 6},
      "encoding": {
        "y": {"datum": 96.8, "type": "quantitative"},
        "y2": {"datum": 103.2}
      }
    },
    {
      "data": {"name": "lab"},
      "mark": {"type": "text", "fontSize": 28, "color": "black", "baseline": "middle", "align": "center"},
      "encoding": {
        "y": {"datum": 100, "type": "quantitative"},
        "text": {"field": "label"}
      }
    }
  ]
}
